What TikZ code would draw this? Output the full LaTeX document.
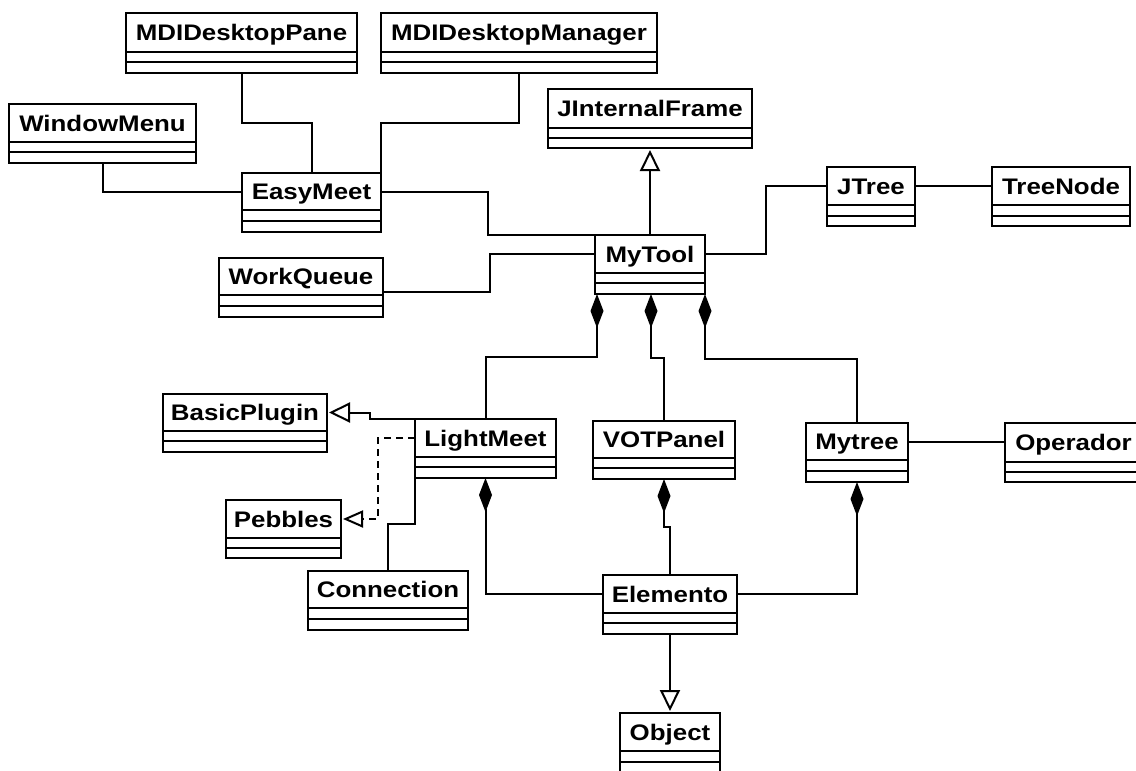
\documentclass[tikz,border=0pt]{standalone}
\usepackage{fontspec}
\newfontfamily\umlfont{Liberation Sans}[FakeStretch=1.15]
\usetikzlibrary{arrows.meta}

% class box: name, title, left, top, right, bottom, first rule, second rule
\newcommand\umlclass[8]{%
  \pgfmathsetmacro\clsW{#5-#3}%
  \pgfmathsetmacro\clsH{#6-#4}%
  \pgfmathsetmacro\clsHH{#7-#4}%
  \node[classframe, minimum width=\clsW pt, minimum height=\clsH pt] (#1) at (#3,#4) {};
  \node[classhead, minimum width=\clsW pt, minimum height=\clsHH pt] (#1-h) at (#3,#4) {#2};
  \draw[classrule] (#3,#7) -- (#5,#7) (#3,#8) -- (#5,#8);
}

\tikzset{
  classframe/.style={draw, line width=2.4pt, fill=white, anchor=north west, inner sep=0pt, outer sep=0pt},
  classhead/.style={anchor=north west, inner sep=0pt, outer sep=0pt, text height=16pt, text depth=0pt,
    font=\umlfont\bfseries\fontsize{22.5}{24}\selectfont},
  classrule/.style={line width=2.2pt},
  assoc/.style={line width=2pt},
  generalize/.style={line width=2pt, -{Triangle[open, length=21pt, width=20pt]}, shorten >=2pt},
  realize/.style={line width=2pt, dash pattern=on 7pt off 5pt, -{Triangle[open, length=20pt, width=17pt]}, shorten >=2pt},
  compose/.style={line width=2pt, -{Diamond[length=34pt, width=13pt]}},
}

\begin{document}
\begin{tikzpicture}[x=1pt, y=-1pt]
\useasboundingbox (0,0) rectangle (1136,771);
\fill[white] (0,0) rectangle (1136,771);
\clip (0,0) rectangle (1136,771);

\umlclass{pane}{MDIDesktopPane}{126}{13}{357}{73}{52}{62}
\umlclass{mgr}{MDIDesktopManager}{381}{13}{657}{73}{52}{62}
\umlclass{wm}{WindowMenu}{9}{104}{196}{163}{142}{152}
\umlclass{easy}{EasyMeet}{242}{173}{381}{232}{210}{221}
\umlclass{jif}{JInternalFrame}{548}{89}{752}{148}{128}{138}
\umlclass{tool}{MyTool}{595}{235}{705}{294}{273}{283}
\umlclass{wq}{WorkQueue}{219}{258}{383}{317}{295}{306}
\umlclass{jtree}{JTree}{827}{167}{915}{226}{205}{216}
\umlclass{tn}{TreeNode}{992}{167}{1130}{226}{205}{216}
\umlclass{bp}{BasicPlugin}{163}{394}{327}{452}{431}{441}
\umlclass{lm}{LightMeet}{415}{419}{556}{478}{457}{467}
\umlclass{vot}{VOTPanel}{593}{421}{735}{479}{458}{468}
\umlclass{mytree}{Mytree}{806}{423}{908}{482}{460}{471}
\umlclass{op}{Operador}{1005}{423}{1142}{482}{462}{472}
\umlclass{pb}{Pebbles}{226}{500}{341}{558}{538}{548}
\umlclass{conn}{Connection}{308}{571}{468}{630}{608}{619}
\umlclass{el}{Elemento}{603}{575}{737}{634}{613}{623}
\umlclass{obj}{Object}{620}{713}{720}{800}{751}{762}

% bend points of the routed connectors
\coordinate (k1) at (488,235);
\coordinate (k2) at (490,292);
\coordinate (k3) at (766,220);
\coordinate (k4) at (597,357);
\coordinate (k5) at (651,358);
\coordinate (k6) at (705,359);
\coordinate (k7) at (370,419);
\coordinate (k8) at (378,438);
\coordinate (k9) at (415,524);
\coordinate (k10) at (670,527);

% associations
\draw[assoc] (pane.south) -- ++(0,50) -| (easy.north);
\draw[assoc] (mgr.south) -- ++(0,50) -| (easy.north east);
\draw[assoc] (wm.south) |- (easy-h.west);
\draw[assoc] (easy-h.east) -| (k1) -- (tool.north west);
\draw[assoc] ([yshift=3pt]wq-h.south east) -- (k2) |- (tool-h.west);
\draw[assoc] (tool-h.east) -| (k3) |- (jtree-h.west);
\draw[assoc] (jtree-h.east) -- (tn-h.west);
\draw[assoc] (mytree-h.east) -- (mytree-h.east -| op-h.west);
\draw[assoc] (lm.south west) -- (k9) -| (conn.north);

% generalizations and realization
\draw[generalize] (tool.north) -- (jif.south);
\draw[generalize] (lm.north west) -- (k7) |- (bp-h.east);
\draw[realize] (lm-h.west) -- (k8) |- (pb-h.east);
\draw[generalize] (el.south) -- (obj.north);

% compositions
\draw[compose] (lm.north) |- (k4) -- (k4 |- tool.south);
\draw[compose] (vot.north) |- (k5) -- (k5 |- tool.south);
\draw[compose] (mytree.north) |- (k6) -- (k6 |- tool.south);
\draw[compose] (el-h.west) -| (lm.south);
\draw[compose] (el.north) -- (k10) -| (vot.south);
\draw[compose] (el-h.east) -| (mytree.south);
\end{tikzpicture}
\end{document}
